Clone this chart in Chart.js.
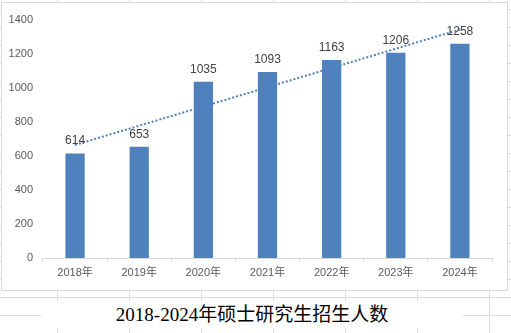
<!DOCTYPE html>
<html lang="zh-CN">
<head>
<meta charset="utf-8">
<title>2018-2024年硕士研究生招生人数</title>
<script src="https://cdn.jsdelivr.net/npm/chart.js@4/dist/chart.umd.min.js"></script>
<style>
    html, body {
        margin: 0;
        padding: 0;
    }
    body {
        width: 511px;
        height: 333px;
        position: relative;
        overflow: hidden;
        background-color: #fff;
        /* celdas de la hoja de cálculo detrás del gráfico */
        background-image:
            linear-gradient(to right, #dcdcdc 1px, transparent 1px),
            linear-gradient(to bottom, #dcdcdc 1px, transparent 1px);
        background-size: 72px 100%, 100% 18px;
        background-position: 57px 0, 0 9px;
    }
    #caja {
        position: absolute;
        left: 1px;
        top: 2px;
        width: 505px;
        height: 287px;
        border: 1px solid #d9d9d9;
        background: #fff;
    }
    #titulo {
        position: absolute;
        left: 41px;
        top: 301px;
        width: 422px;
        height: 27px;
        background: #fff;
        text-align: center;
        font-family: "Liberation Serif", "Noto Sans CJK SC", serif;
        font-size: 19px;
        line-height: 27px;
        color: #000;
    }
</style>
</head>
<body>
<div id="caja"><canvas id="chartMatricula" width="505" height="287"></canvas></div>
<div id="titulo">2018-2024年硕士研究生招生人数</div>

<script>
const anios = ['2018年', '2019年', '2020年', '2021年', '2022年', '2023年', '2024年'];
const matriculados = [614, 653, 1035, 1093, 1163, 1206, 1258];
const tendencia = [664, null, null, null, null, null, 1342];
const ticksY = [0, 200, 400, 600, 800, 1000, 1200, 1400];

const AZUL = '#4f81bd';
const FUENTE = '"Liberation Sans", "Noto Sans CJK SC", sans-serif';

// etiqueta con el valor encima de cada barra
const etiquetasBarras = {
    id: 'etiquetasBarras',
    afterDatasetsDraw(chart) {
        const meta = chart.getDatasetMeta(1);
        const ctx = chart.ctx;
        ctx.save();
        ctx.font = '12px ' + FUENTE;
        ctx.fillStyle = '#404040';
        ctx.textAlign = 'center';
        ctx.textBaseline = 'alphabetic';
        meta.data.forEach((bar, i) => {
            ctx.fillText(String(matriculados[i]), bar.x, bar.y - 9);
        });
        ctx.restore();
    }
};

new Chart(document.getElementById('chartMatricula'), {
    type: 'bar',
    data: {
        labels: anios,
        datasets: [
            {
                type: 'line',
                label: 'Tendencia',
                data: tendencia,
                spanGaps: true,
                borderColor: AZUL,
                borderWidth: 2,
                borderDash: [2, 2],
                borderCapStyle: 'butt',
                pointRadius: 0,
                fill: false
            },
            {
                label: '招生人数',
                data: matriculados,
                backgroundColor: AZUL,
                barPercentage: 1,
                categoryPercentage: 0.3
            }
        ]
    },
    options: {
        responsive: false,
        animation: false,
        devicePixelRatio: 1,
        layout: { padding: { left: 0, right: 15, top: 14, bottom: 0 } },
        plugins: {
            legend: { display: false },
            tooltip: { enabled: false }
        },
        scales: {
            x: {
                grid: {
                    offset: true,
                    drawOnChartArea: false,
                    drawTicks: true,
                    tickLength: 4,
                    color: '#d9d9d9'
                },
                border: { color: '#d9d9d9' },
                ticks: {
                    color: '#595959',
                    font: { family: FUENTE, size: 11 },
                    padding: 4,
                    maxRotation: 0
                },
                afterFit(scale) { scale.height = 32; }
            },
            y: {
                min: 0,
                max: 1400,
                afterBuildTicks(scale) {
                    scale.ticks = ticksY.map(v => ({ value: v }));
                },
                grid: { display: false, drawTicks: false },
                border: { display: false },
                ticks: {
                    color: '#595959',
                    font: { family: FUENTE, size: 11 },
                    padding: 10,
                    callback: v => String(v)
                },
                afterFit(scale) { scale.width = 41; }
            }
        }
    },
    plugins: [etiquetasBarras]
});
</script>
</body>
</html>
